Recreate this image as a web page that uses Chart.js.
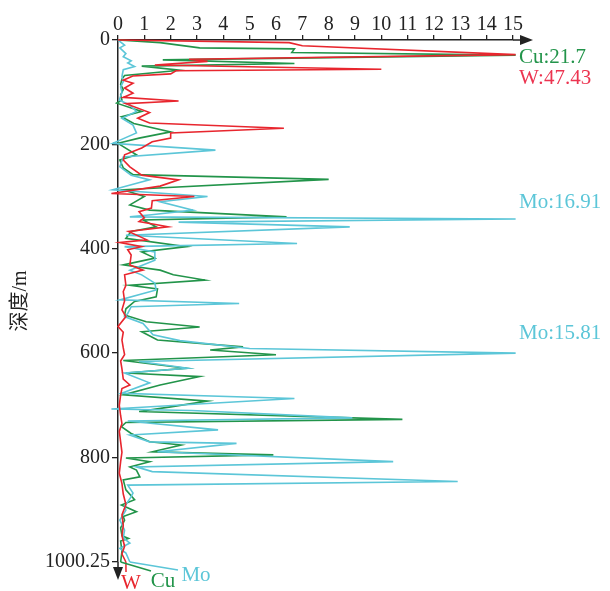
<!DOCTYPE html>
<html>
<head>
<meta charset="utf-8">
<script src="https://cdn.jsdelivr.net/npm/chart.js@4.4.1/dist/chart.umd.min.js"></script>
<style>
html, body { margin: 0; padding: 0; background: #fff; }
</style>
</head>
<body>
<canvas id="GraficoFuro" width="610" height="591"></canvas>
<script>
// profundidade (m) e teores de cada elemento
const wDepth = [0, 5, 11, 28, 37, 41, 48, 56, 59, 65, 69, 77, 83, 92, 102, 110, 117, 122, 139, 150,
    159, 169, 178, 188, 195, 207, 220, 230, 243, 259, 268, 280, 294, 300, 308, 322, 329, 341, 348, 358,
    367, 383, 388, 396, 402, 412, 431, 441, 450, 470, 482, 500, 517, 530, 549, 560, 575, 590, 603, 615,
    630, 650, 661, 668, 680, 700, 720, 735, 750, 770, 790, 808, 830, 850, 870, 890, 910, 930, 950, 970,
    985, 1000.25];
const wVal = [0, 6.5, 7.0, 47.43, 2.7, 3.4, 1.4, 10.0, 2.2, 2.0, 0.56, 0.2, 0.57, 0.25, 0.57, 0.2, 2.3, 0.3, 1.2, 0.75,
    1.2, 6.3, 2.0, 2.0, 1.3, 0.9, 0.25, 0.2, 0.45, 0.9, 2.3, 1.6, -0.25, 2.9, 1.3, 1.27, 0.8, 1.0, 0.8, 1.9,
    0.4, 1.1, 0.07, 0.9, 0.37, 0.5, 0.45, 0.95, 0.25, 0.3, 0.2, 0.25, 0.15, 0.3, 0.0, 0.2, 0.15, 0.2, 0.25, 0.1,
    0.15, 0.2, 0.45, 0.15, 0.1, 0.05, 0.1, 0.15, 0.05, 0.1, 0.15, 0.1, 0.05, 0.15, 0.2, 0.3, 0.15, 0.2, 0.15, 0.25,
    0.15, 0.3];

const cuDepth = [0, 5, 15, 17, 24, 29, 38, 45, 50, 58, 68, 75, 85, 95, 105, 115, 121, 137, 147, 160,
    176, 188, 198, 220, 230, 245, 258, 267, 287, 300, 316, 326, 339, 345, 358, 367, 380, 396, 406, 418,
    431, 441, 450, 460, 470, 477, 492, 501, 515, 527, 540, 550, 559, 575, 588, 594, 603, 614, 629, 638,
    645, 661, 680, 692, 703, 712, 727, 733, 741, 754, 770, 776, 789, 795, 801, 808, 818, 824, 837, 843,
    862, 881, 891, 904, 913, 920, 935, 950, 955, 960, 980, 1000.25];
const cuVal = [0, 1.6, 3.1, 6.7, 6.6, 21.7, 1.7, 6.7, 0.9, 2.35, 0.25, 0.15, 0.1, 0.2, 0.1, 0.15, -0.05, 0.9, 0.13, 0.6,
    2.0, 0.8, 0.0, 0.7, 0.07, 0.2, 0.57, 8.0, 0.2, 1.0, 0.45, 1.2, 6.4, 0.95, 1.45, 0.5, 0.3, 2.6, 0.9, 1.4,
    0.2, 1.6, 2.1, 3.3, 0.45, 1.5, 1.45, 0.63, 0.3, 0.25, 1.07, 3.1, 0.9, 1.5, 4.75, 3.5, 6.0, 0.2, 2.6, 0.3,
    3.1, 1.6, 0.2, 3.4, 2.0, 0.8, 10.8, 0.3, 0.13, 0.5, 1.2, 2.4, 1.3, 5.9, 0.3, 1.2, 0.45, 0.7, 0.83, 0.2,
    0.3, 0.63, 0.13, 0.7, 0.2, 0.25, 0.1, 0.15, 0.4, 0.1, 0.15, 0.1];

const moDepth = [0, 10, 15, 26, 32, 40, 44, 51, 57, 70, 80, 90, 100, 115, 125, 137, 150, 163, 178, 198,
    211, 224, 243, 259, 268, 287, 300, 310, 326, 335, 339, 343, 349, 358, 374, 390, 396, 406, 422, 441,
    450, 466, 479, 498, 505, 511, 524, 530, 543, 565, 576, 591, 600, 616, 629, 638, 657, 677, 687, 707,
    710, 724, 730, 747, 757, 770, 773, 789, 808, 818, 827, 846, 853, 868, 875, 894, 901, 920, 939, 954,
    964, 974, 983, 1000.25];
const moVal = [0, 0.25, 0.07, 0.3, 0.2, 0.5, 0.37, 0.63, 0.2, 0.15, 0.2, 0.1, 0.15, 0.05, 0.45, 0.7, 0.15, 0.57, 0.7, -0.2,
    3.7, 0.2, 0.07, 0.5, 1.2, -0.2, 3.4, 1.6, 2.85, 1.27, 0.45, 16.91, 2.3, 8.8, 0.3, 6.8, 0.25, 1.4, 1.4, 0.45,
    0.9, 1.4, 1.45, 0.07, 4.6, 0.5, 0.37, 0.25, 0.95, 1.33, 2.35, 5.0, 15.81, 0.8, 2.65, 0.25, 1.2, 0.13, 6.7, -0.25,
    2.8, 8.9, 0.37, 3.8, 0.45, 1.2, 4.5, 1.5, 10.45, 0.7, 1.3, 12.9, 0.37, 0.57, 0.5, 0.25, 0.3, 0.07, 0.25, 0.2,
    0.45, 0.07, 0.3, 0.45];

const depthTicks = [0, 200, 400, 600, 800, 1000.25];
const CAP = 15.1; // picos maiores que a escala ficam cortados em 15

const corW = '#e8262e', corCu = '#22944a', corMo = '#5cc6d8';
const fonte = "'Liberation Serif', 'Times New Roman', serif";

function pontos(prof, val) {
    return prof.map(function (d, i) { return { x: Math.min(val[i], CAP), y: d }; });
}

// setas dos eixos, valores dos picos e nomes das curvas
const decoracoes = {
    id: 'decoracoes',
    afterDraw: function (chart) {
        const ctx = chart.ctx, xs = chart.scales.x, ys = chart.scales.y;
        const top = chart.chartArea.top, left = chart.chartArea.left, bottom = chart.chartArea.bottom, right = chart.chartArea.right;
        ctx.save();
        ctx.strokeStyle = '#222';
        ctx.fillStyle = '#222';
        ctx.lineWidth = 1.5;
        ctx.beginPath();
        ctx.moveTo(right, top); ctx.lineTo(right + 9, top);
        ctx.moveTo(left, bottom); ctx.lineTo(left, bottom + 6);
        ctx.stroke();
        ctx.beginPath();
        ctx.moveTo(right + 7, top - 5); ctx.lineTo(right + 20, top); ctx.lineTo(right + 7, top + 5);
        ctx.closePath(); ctx.fill();
        ctx.beginPath();
        ctx.moveTo(left - 5, bottom + 5); ctx.lineTo(left, bottom + 18); ctx.lineTo(left + 5, bottom + 5);
        ctx.closePath(); ctx.fill();

        ctx.font = '21px ' + fonte;
        ctx.textBaseline = 'middle';
        ctx.textAlign = 'left';
        [['Cu:21.7', corCu, 34], ['W:47.43', '#ec3450', 73], ['Mo:16.91', corMo, 312], ['Mo:15.81', corMo, 563]]
            .forEach(function (n) {
                ctx.fillStyle = n[1];
                ctx.fillText(n[0], right + 6, ys.getPixelForValue(n[2]));
            });

        // linhas de chamada até os nomes
        const fim = [[wVal, wDepth, corW, 'W', 8, 10, 13, 21],
                     [cuVal, cuDepth, corCu, 'Cu', 33, 9, 45, 19],
                     [moVal, moDepth, corMo, 'Mo', 60, 8, 78, 13]];
        fim.forEach(function (f) {
            const n = f[0].length - 1;
            const px = xs.getPixelForValue(f[0][n]), py = ys.getPixelForValue(f[1][n]);
            ctx.strokeStyle = f[2];
            ctx.lineWidth = 1.5;
            ctx.beginPath();
            ctx.moveTo(px, py);
            ctx.lineTo(left + f[4], bottom + f[5]);
            ctx.stroke();
            ctx.fillStyle = f[2];
            ctx.textAlign = 'center';
            ctx.fillText(f[3], left + f[6], bottom + f[7]);
        });
        ctx.restore();
    }
};

new Chart(document.getElementById('GraficoFuro'), {
    type: 'scatter',
    data: {
        datasets: [
            { label: 'W', data: pontos(wDepth, wVal), borderColor: corW, order: 0 },
            { label: 'Mo', data: pontos(moDepth, moVal), borderColor: corMo, order: 1 },
            { label: 'Cu', data: pontos(cuDepth, cuVal), borderColor: corCu, order: 2 }
        ]
    },
    options: {
        responsive: false,
        animation: false,
        devicePixelRatio: 1,
        layout: { padding: { left: 0, top: 0, right: 97, bottom: 29 } },
        datasets: {
            scatter: { showLine: true, pointRadius: 0, borderWidth: 1.6, clip: false, tension: 0 }
        },
        plugins: { legend: { display: false }, tooltip: { enabled: false } },
        scales: {
            x: {
                type: 'linear', position: 'top', min: 0, max: 15,
                ticks: { stepSize: 1, autoSkip: false, maxRotation: 0, padding: -2, color: '#222',
                    font: { family: fonte, size: 20 } },
                grid: { drawOnChartArea: false, tickLength: 5, color: '#222', lineWidth: 1.3 },
                border: { color: '#222', width: 1.5 },
                afterFit: function (s) { s.height = 40; }
            },
            y: {
                type: 'linear', reverse: true, min: 0, max: 1000.25,
                afterBuildTicks: function (s) { s.ticks = depthTicks.map(function (v) { return { value: v }; }); },
                ticks: { autoSkip: false, padding: 2, color: '#222', font: { family: fonte, size: 20 },
                    callback: function (v) { return String(v); } },
                grid: { drawOnChartArea: false, tickLength: 6, color: '#222', lineWidth: 1.3 },
                border: { color: '#222', width: 1.5 },
                title: { display: true, text: '深度/m', color: '#222', padding: { top: 9, bottom: 0 },
                    font: { family: "'Liberation Serif', 'Noto Sans CJK SC', serif", size: 20 } },
                afterFit: function (s) { s.width = 118; }
            }
        }
    },
    plugins: [decoracoes]
});
</script>
</body>
</html>
